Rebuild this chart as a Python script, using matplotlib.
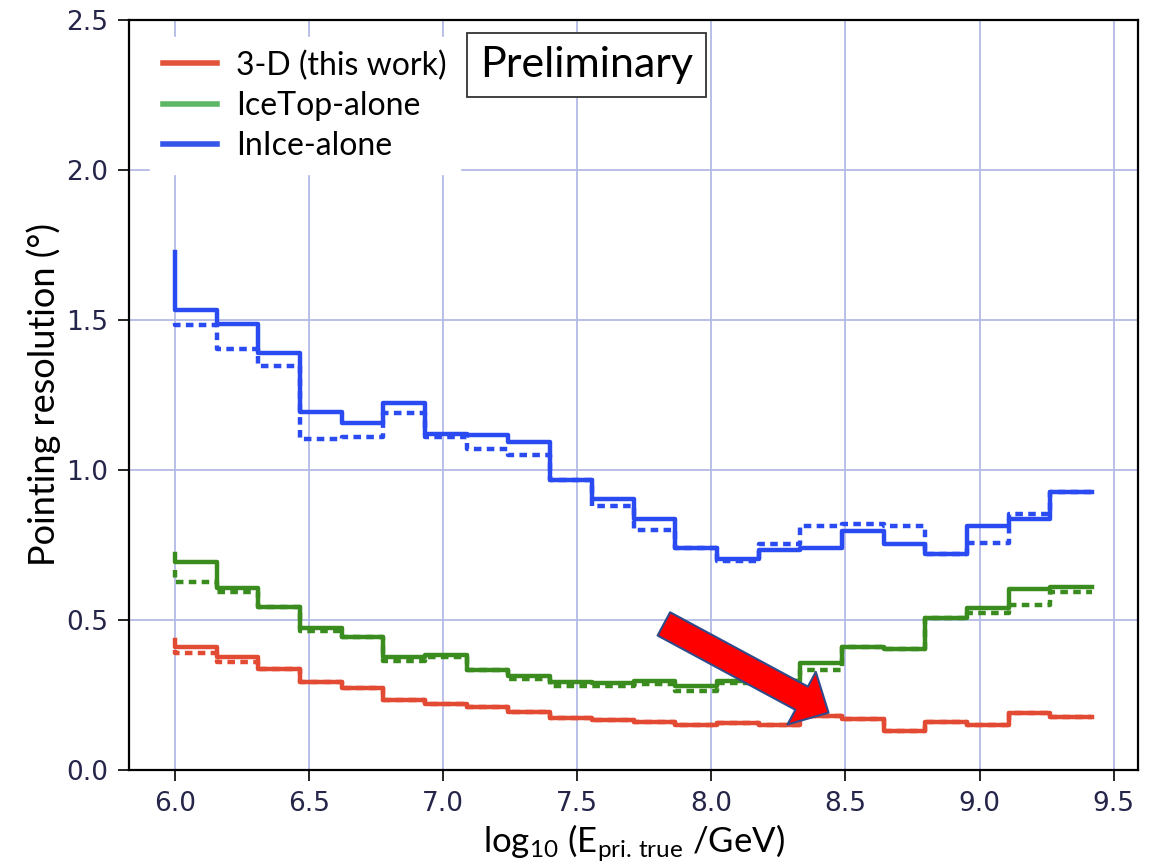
import matplotlib
matplotlib.use("Agg")
import matplotlib.pyplot as plt
import numpy as np
from matplotlib.lines import Line2D

# bin edges in log10(E/GeV); first y value of each series is the value drawn at the left edge
E_EDGES = np.linspace(6.0, 9.42, 23)

RED_SOLID = [0.433, 0.411, 0.378, 0.336, 0.292, 0.274, 0.233, 0.220, 0.211, 0.192, 0.172, 0.168,
             0.159, 0.149, 0.157, 0.150, 0.180, 0.171, 0.129, 0.159, 0.150, 0.190, 0.176]
RED_DOTTED = [0.400, 0.389, 0.361, 0.336, 0.292, 0.274, 0.233, 0.220, 0.211, 0.192, 0.172, 0.168,
              0.159, 0.149, 0.157, 0.150, 0.180, 0.171, 0.129, 0.159, 0.150, 0.190, 0.176]
GREEN_SOLID = [0.719, 0.694, 0.606, 0.544, 0.472, 0.444, 0.376, 0.383, 0.333, 0.314, 0.292, 0.290,
               0.298, 0.281, 0.297, 0.297, 0.356, 0.411, 0.403, 0.507, 0.540, 0.603, 0.609]
GREEN_DOTTED = [0.667, 0.628, 0.594, 0.544, 0.463, 0.444, 0.363, 0.378, 0.333, 0.302, 0.281, 0.281,
                0.286, 0.262, 0.290, 0.297, 0.333, 0.409, 0.403, 0.507, 0.522, 0.550, 0.592]
BLUE_SOLID = [1.728, 1.533, 1.486, 1.391, 1.194, 1.156, 1.222, 1.120, 1.115, 1.092, 0.967, 0.903,
              0.836, 0.739, 0.702, 0.732, 0.739, 0.797, 0.754, 0.721, 0.813, 0.836, 0.927]
BLUE_DOTTED = [1.490, 1.482, 1.402, 1.347, 1.102, 1.110, 1.191, 1.110, 1.069, 1.049, 0.965, 0.880,
               0.799, 0.739, 0.695, 0.752, 0.813, 0.819, 0.813, 0.720, 0.758, 0.852, 0.927]

LABELS = ["3-D (this work)", "IceTop-alone", "InIce-alone"]
LINE_COLORS = ["#e34a33", "#3a8c1f", "#2b4bf2"]
LEGEND_COLORS = ["#e2533c", "#5cb766", "#3455e8"]

plt.rcParams["mathtext.fontset"] = "custom"
plt.rcParams["mathtext.rm"] = "Lato"
plt.rcParams["mathtext.it"] = "Lato:italic"

fig = plt.figure(figsize=(11.52, 8.68), dpi=100)
ax = fig.add_axes([0.112, 0.1129, 0.8759, 0.8641])

dots = (0, (1.7, 1.2))
series = [(RED_SOLID, RED_DOTTED), (GREEN_SOLID, GREEN_DOTTED), (BLUE_SOLID, BLUE_DOTTED)]
for (solid, dotted), col in zip(series, LINE_COLORS):
    ax.step(E_EDGES, dotted, where="pre", color=col, lw=3.2, ls=dots, zorder=3)
    ax.step(E_EDGES, solid, where="pre", color=col, lw=3.2, zorder=4)

ax.set_ylim(0, 2.5)
ax.set_xticks(np.arange(6.0, 9.51, 0.5))
ax.set_yticks(np.arange(0.0, 2.51, 0.5))
ax.xaxis.set_major_formatter(matplotlib.ticker.FormatStrFormatter("%.1f"))
ax.yaxis.set_major_formatter(matplotlib.ticker.FormatStrFormatter("%.1f"))
ax.grid(True, color="#b4bae6", lw=1.3, zorder=0)
ax.set_axisbelow(True)
ax.tick_params(labelsize=19, labelcolor="#25254a", length=8, width=1.2, pad=7)
for s in ax.spines.values():
    s.set_linewidth(1.6)
    s.set_color("black")

ax.set_ylabel("Pointing resolution (°)", fontsize=26, family="Lato", labelpad=4)
ax.set_xlabel(r"$\mathrm{log_{10}\ (E_{pri.\,true}\ /GeV)}$", fontsize=25, labelpad=4)

handles = [Line2D([], [], color=c, lw=4) for c in LEGEND_COLORS]
leg = ax.legend(handles, LABELS, loc="upper left", bbox_to_anchor=(0.005, 0.998),
                prop={"family": "Lato", "size": 23}, frameon=True, fancybox=False,
                edgecolor="white", facecolor="white", framealpha=1,
                handlelength=1.7, handletextpad=0.6, labelspacing=0.32, borderpad=0.4)
leg.set_zorder(5)

ax.text(0.348, 0.94, "Preliminary", transform=ax.transAxes, fontsize=31, family="Lato",
        va="center", ha="left", zorder=6,
        bbox=dict(boxstyle="square,pad=0.3", fc="white", ec="#333333", lw=1.3))

ax.annotate("", xy=(8.437, 0.191), xytext=(7.823, 0.487),
            arrowprops=dict(arrowstyle="simple,head_length=2.2,head_width=4.3,tail_width=1.9",
                            mutation_scale=10, fc="#ff0000", ec="#2e4a8a", lw=1.5,
                            shrinkA=0, shrinkB=0),
            zorder=7)

fig.savefig("out.png", dpi=100)
